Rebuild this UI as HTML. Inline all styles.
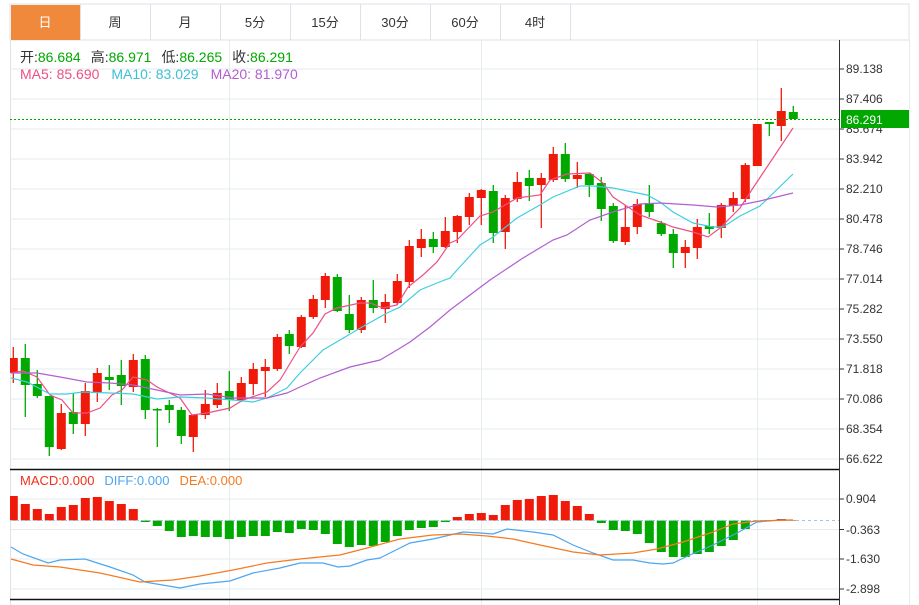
<!DOCTYPE html>
<html><head><meta charset="utf-8"><style>
body{margin:0;background:#fff;width:919px;height:605px;overflow:hidden;font-family:"Liberation Sans","Noto Sans CJK SC",sans-serif;}
svg{position:absolute;left:0;top:0}
</style></head><body>
<svg id="s" width="919" height="605" xmlns="http://www.w3.org/2000/svg" font-family="Liberation Sans, Noto Sans CJK SC, sans-serif">
<rect x="10" y="4" width="899" height="36" fill="#fff" stroke="#dde2e8"/>
<rect x="11" y="5" width="69" height="35" fill="#f0893c"/>
<g stroke="#dde2e8"><line x1="80.5" y1="4" x2="80.5" y2="40"/><line x1="150.5" y1="4" x2="150.5" y2="40"/><line x1="220.5" y1="4" x2="220.5" y2="40"/><line x1="290.5" y1="4" x2="290.5" y2="40"/><line x1="360.5" y1="4" x2="360.5" y2="40"/><line x1="430.5" y1="4" x2="430.5" y2="40"/><line x1="500.5" y1="4" x2="500.5" y2="40"/><line x1="570.5" y1="4" x2="570.5" y2="40"/></g>
<g font-size="13" text-anchor="middle" fill="#333"><text x="45" y="27" fill="#fff">日</text><text x="115" y="27">周</text><text x="185" y="27">月</text><text x="255" y="27">5分</text><text x="325" y="27">15分</text><text x="395" y="27">30分</text><text x="465" y="27">60分</text><text x="535" y="27">4时</text></g>
<line x1="10.5" y1="40" x2="10.5" y2="605" stroke="#dde2e8"/>
<g stroke="#e6ebf0"><line x1="10" y1="69" x2="839" y2="69"/><line x1="10" y1="99" x2="839" y2="99"/><line x1="10" y1="129" x2="839" y2="129"/><line x1="10" y1="159" x2="839" y2="159"/><line x1="10" y1="189" x2="839" y2="189"/><line x1="10" y1="219" x2="839" y2="219"/><line x1="10" y1="249" x2="839" y2="249"/><line x1="10" y1="279" x2="839" y2="279"/><line x1="10" y1="309" x2="839" y2="309"/><line x1="10" y1="339" x2="839" y2="339"/><line x1="10" y1="369" x2="839" y2="369"/><line x1="10" y1="399" x2="839" y2="399"/><line x1="10" y1="429" x2="839" y2="429"/><line x1="10" y1="459" x2="839" y2="459"/>
<line x1="10" y1="499" x2="839" y2="499"/><line x1="10" y1="529.5" x2="839" y2="529.5"/><line x1="10" y1="559" x2="839" y2="559"/><line x1="10" y1="589" x2="839" y2="589"/>
<line x1="229.5" y1="40" x2="229.5" y2="605"/><line x1="481.5" y1="40" x2="481.5" y2="605"/><line x1="757.5" y1="40" x2="757.5" y2="605"/><line x1="909.5" y1="40" x2="909.5" y2="605"/></g>
<g id="c"></g>
<line x1="10" y1="119.5" x2="839" y2="119.5" stroke="#00a800" stroke-dasharray="2,2"/>
<line x1="10" y1="520.5" x2="839" y2="520.5" stroke="#9cc8e8" stroke-dasharray="3,3"/>
<g fill="none" stroke-width="1.2">
<polyline stroke="#ef4f86" points="11,373 23,371 37,377 50,395 62,400 73,413 87,413 100,408 112,395 122,390 133,377 147,380 157,387 180,398 192,415 207,413 230,408 243,400 267,392 280,380 300,347 313,333 325,314 337,308 360,303 370,303 383,308 397,305 408,287 423,275 437,262 450,243 457,240 480,216 493,212 517,198 540,195 550,180 567,174 590,173 603,183 613,197 640,215 660,222 673,227 693,232 708,237 720,228 740,208 753,188 773,158 793,128"/>
<polyline stroke="#3dcfe0" points="11,378 27,382 50,394 67,394 83,392 110,393 133,394 157,399 180,397 207,398 233,400 253,402 267,398 287,388 300,373 323,350 340,340 362,327 387,313 400,307 420,290 437,283 450,278 457,270 480,245 493,237 517,218 540,205 553,197 580,186 593,186 613,188 647,195 660,202 673,212 693,223 713,227 723,227 740,216 760,206 793,174"/>
<polyline stroke="#b25ed0" points="11,373 37,373 60,377 87,382 110,383 133,385 157,390 180,395 207,394 233,398 253,398 267,398 287,393 300,387 320,378 350,367 380,360 397,350 410,342 430,327 450,310 470,295 490,280 523,258 553,240 567,235 590,220 613,212 640,204 660,203 693,205 717,207 740,205 760,201 793,193"/>
<polyline stroke="#4da6f0" points="11,547 23,554 48,563 60,560 85,559 110,567 133,575 145,582 180,588 200,584 230,581 253,573 280,568 300,563 323,563 338,567 350,566 367,560 380,558 410,543 433,539 463,532 480,533 493,534 507,529 533,532 553,535 573,545 593,553 613,560 633,560 650,563 663,564 673,563 690,555 713,545 737,533 757,522 780,520 793,520"/>
<polyline stroke="#f57a20" points="11,559 33,565 60,567 100,573 140,582 173,580 200,576 233,570 267,563 300,559 340,555 367,548 400,539 433,535 460,534 487,536 513,539 540,545 573,552 600,555 633,553 657,549 683,542 713,532 733,524 757,521 793,520"/>
</g>
<line x1="10" y1="469.5" x2="839" y2="469.5" stroke="#111" stroke-width="1.5"/>
<line x1="10" y1="599.5" x2="839" y2="599.5" stroke="#111" stroke-width="1.5"/>
<line x1="839.5" y1="40" x2="839.5" y2="605" stroke="#333"/>
<g stroke="#333"><line x1="839" y1="69" x2="844" y2="69"/><line x1="839" y1="99" x2="844" y2="99"/><line x1="839" y1="129" x2="844" y2="129"/><line x1="839" y1="159" x2="844" y2="159"/><line x1="839" y1="189" x2="844" y2="189"/><line x1="839" y1="219" x2="844" y2="219"/><line x1="839" y1="249" x2="844" y2="249"/><line x1="839" y1="279" x2="844" y2="279"/><line x1="839" y1="309" x2="844" y2="309"/><line x1="839" y1="339" x2="844" y2="339"/><line x1="839" y1="369" x2="844" y2="369"/><line x1="839" y1="399" x2="844" y2="399"/><line x1="839" y1="429" x2="844" y2="429"/><line x1="839" y1="459" x2="844" y2="459"/><line x1="839" y1="499" x2="844" y2="499"/><line x1="839" y1="529.5" x2="844" y2="529.5"/><line x1="839" y1="559" x2="844" y2="559"/><line x1="839" y1="589" x2="844" y2="589"/></g>
<g font-size="12" fill="#333"><text x="846" y="73">89.138</text><text x="846" y="103">87.406</text><text x="846" y="133">85.674</text><text x="846" y="163">83.942</text><text x="846" y="193">82.210</text><text x="846" y="223">80.478</text><text x="846" y="253">78.746</text><text x="846" y="283">77.014</text><text x="846" y="313">75.282</text><text x="846" y="343">73.550</text><text x="846" y="373">71.818</text><text x="846" y="403">70.086</text><text x="846" y="433">68.354</text><text x="846" y="463">66.622</text>
<text x="846" y="503">0.904</text><text x="846" y="534">-0.363</text><text x="846" y="563">-1.630</text><text x="846" y="593">-2.898</text></g>
<rect x="841" y="110" width="68" height="18" fill="#00a800"/>
<text x="846" y="124" font-size="12" fill="#fff">86.291</text>
<g font-size="14"><text x="20" y="62" fill="#333">开:<tspan fill="#00a800">86.684</tspan><tspan dx="10" fill="#333">高:</tspan><tspan fill="#00a800">86.971</tspan><tspan dx="10" fill="#333">低:</tspan><tspan fill="#00a800">86.265</tspan><tspan dx="10" fill="#333">收:</tspan><tspan fill="#00a800">86.291</tspan></text>
<text x="20" y="79" fill="#ef4f86">MA5: 85.690<tspan dx="12" fill="#3dbfd8">MA10: 83.029</tspan><tspan dx="12" fill="#b25ed0">MA20: 81.970</tspan></text></g>
<text x="20" y="485" font-size="13" fill="#f0301a">MACD:0.000<tspan dx="10" fill="#4da6f0">DIFF:0.000</tspan><tspan dx="10" fill="#f57a20">DEA:0.000</tspan></text>
</svg>
<script>
var d="r 358 373 347 383|g 358 385 344 417|g 384 396 370 398|g 396 447 396 456|r 413 449 404 450|g 412 424 393 434|r 391 424 383 436|r 373 392 368 402|g 377 380 365 390|g 375 386 360 405|r 360 387 354 392|g 359 410 355 419|g 409 410 408 447|g 405 410 400 423|g 410 436 407 444|r 415 437 415 452|r 404 415 390 419|r 393 405 383 408|g 391 400 371 411|r 383 400 377 402|r 369 384 363 395|r 367 371 359 397|r 337 369 334 371|g 334 346 330 354|r 317 347 315 348|r 299 317 295 319|r 276 300 273 308|g 277 311 274 312|g 314 330 295 333|r 300 330 297 333|g 300 308 280 313|r 302 309 294 323|r 281 303 274 305|r 246 282 240 288|r 239 248 229 257|g 239 247 232 253|r 231 247 217 248|r 216 232 215 243|r 197 217 193 225|r 190 198 189 225|g 191 233 185 243|r 198 232 195 249|r 182 199 172 202|g 178 186 170 201|r 178 185 173 228|r 154 180 147 182|g 154 179 143 182|r 175 179 162 188|g 174 185 173 197|g 183 209 177 221|g 206 241 203 243|r 227 242 205 245|r 204 227 199 234|g 203 212 185 217|g 223 234 221 236|g 234 253 229 268|r 247 253 240 268|r 227 248 219 259|g 226 229 213 234|r 205 228 203 238|r 198 206 192 212|r 165 199 163 202|r 124 166 124 166|g 122 124 122 136|r 111 126 88 141|g 112 119 106 119".split("|");
var h=[496,504,509,514,507,505,498,497,501,504,509,522,526,531,537,536,537,537,539,537,536,536,532,533,529,530,534,544,547,545,546,542,536,530,528,527,522,517,514,513,515,505,500,499,496,495,501,506,514,523,530,531,534,543,552,557,557,554,552,546,540,529,521,520,519,520];
var s="",R="#f01a0a",G="#00a800";
d.forEach(function(l,i){var p=l.split(" "),x=13.3+12*i,c=p[0]=="r"?R:G,bt=+p[1],bb=+p[2],wt=+p[3],wb=+p[4];
s+='<line x1="'+x+'" y1="'+wt+'" x2="'+x+'" y2="'+wb+'" stroke="'+c+'" stroke-width="1.3"/>';
s+='<rect x="'+Math.max(10,x-4.5)+'" y="'+bt+'" width="'+(x-4.5<10?x+4.5-10:9)+'" height="'+Math.max(1.5,bb-bt)+'" fill="'+c+'"/>';
var v=h[i],z=520.5;if(v<z)s+='<rect x="'+Math.max(10,x-4.5)+'" y="'+v+'" width="'+(x-4.5<10?x+4.5-10:9)+'" height="'+(z-v)+'" fill="'+R+'"/>';else s+='<rect x="'+(x-4.5)+'" y="'+z+'" width="9" height="'+Math.max(1,v-z)+'" fill="'+G+'"/>';});
document.getElementById("c").innerHTML=s;
</script>
</body></html>
